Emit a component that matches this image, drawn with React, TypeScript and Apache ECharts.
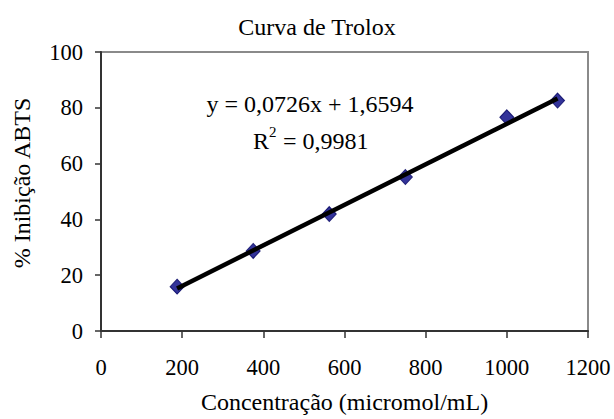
import React, { useEffect, useRef } from "react";
import * as echarts from "echarts";

const concentrations = [187.5, 375, 562.5, 750, 1000, 1125];
const inhibition = [15.9, 28.7, 41.9, 55.2, 76.6, 82.6];
const slope = 0.0726;
const intercept = 1.6594;
const xTicks = [0, 200, 400, 600, 800, 1000, 1200];
const yTicks = [0, 20, 40, 60, 80, 100];
const titleText = "Curva de Trolox";
const xName = "Concentração (micromol/mL)";
const yName = "% Inibição ABTS";
const eqText = "y = 0,0726x + 1,6594";
const r2Value = " = 0,9981";

const FONT = "'Liberation Serif', 'Times New Roman', serif";
const BIG = 24;
const TICK = 22.5;

export default function App() {
  const ref = useRef<HTMLDivElement>(null);
  useEffect(() => {
    document.body.style.margin = "0";
    const chart = echarts.init(ref.current!, null, { renderer: "svg" });
    const xMin = concentrations[0];
    const xMax = concentrations[concentrations.length - 1];
    const trend = [
      [xMin, slope * xMin + intercept],
      [xMax, slope * xMax + intercept],
    ];
    chart.setOption({
      animation: false,
      backgroundColor: "#ffffff",
      textStyle: { fontFamily: FONT },
      title: {
        text: titleText,
        left: 312,
        textAlign: "center",
        top: 10,
        textStyle: { fontFamily: FONT, fontSize: BIG, fontWeight: "normal", color: "#000" },
      },
      grid: {
        left: 101,
        right: 26,
        top: 52,
        bottom: 85,
        show: true,
        borderColor: "#8a8a8a",
        borderWidth: 2,
        backgroundColor: "#fff",
      },
      xAxis: {
        type: "value",
        min: xTicks[0],
        max: xTicks[xTicks.length - 1],
        interval: xTicks[1] - xTicks[0],
        name: xName,
        nameLocation: "middle",
        nameGap: 59,
        nameTextStyle: { fontFamily: FONT, fontSize: BIG, color: "#000" },
        axisLine: { show: true, onZero: false, lineStyle: { color: "#333", width: 2 } },
        axisTick: { show: true, inside: false, length: 7, lineStyle: { color: "#333", width: 1.5 } },
        axisLabel: { fontFamily: FONT, fontSize: TICK, color: "#000", margin: 25, formatter: (v: number) => String(v) },
        splitLine: { show: false },
      },
      yAxis: {
        type: "value",
        min: yTicks[0],
        max: yTicks[yTicks.length - 1],
        interval: yTicks[1] - yTicks[0],
        axisLine: { show: true, onZero: false, lineStyle: { color: "#333", width: 2 } },
        axisTick: { show: true, inside: false, length: 6, lineStyle: { color: "#333", width: 1.5 } },
        axisLabel: { fontFamily: FONT, fontSize: TICK, color: "#000", margin: 18, formatter: (v: number) => String(v) },
        splitLine: { show: false },
      },
      series: [
        {
          type: "line",
          data: trend,
          symbol: "none",
          lineStyle: { color: "#000", width: 4.5 },
          z: 3,
        },
        {
          type: "scatter",
          data: concentrations.map((c, i) => [c, inhibition[i]]),
          symbol: "diamond",
          symbolSize: [14, 15],
          itemStyle: { color: "#000080", borderColor: "#000060", borderWidth: 1 },
          z: 2,
        },
      ],
      graphic: [
        {
          type: "text",
          x: 22,
          y: 183,
          rotation: Math.PI / 2,
          style: { text: yName, font: `${BIG}px ${FONT}`, fill: "#000", align: "center", verticalAlign: "middle" },
        },
        {
          type: "text",
          x: 310,
          y: 104,
          style: { text: eqText, font: `${BIG}px ${FONT}`, fill: "#000", align: "center", verticalAlign: "middle" },
        },
        {
          type: "group",
          x: 310,
          y: 141,
          children: [
            { type: "text", x: -57, y: 0, style: { text: "R", font: `${BIG}px ${FONT}`, fill: "#000", align: "left", verticalAlign: "middle" } },
            { type: "text", x: -41, y: -9, style: { text: "2", font: `15px ${FONT}`, fill: "#000", align: "left", verticalAlign: "middle" } },
            { type: "text", x: -33, y: 0, style: { text: r2Value, font: `${BIG}px ${FONT}`, fill: "#000", align: "left", verticalAlign: "middle" } },
          ],
        },
      ],
    });
    return () => chart.dispose();
  }, []);
  return <div ref={ref} style={{ width: 614, height: 419 }} />;
}
